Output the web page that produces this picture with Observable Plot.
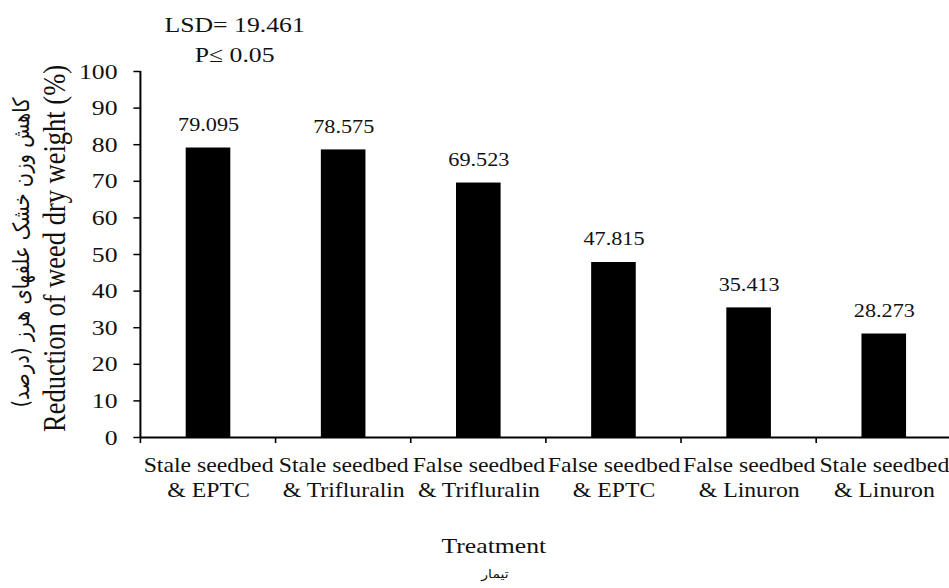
<!DOCTYPE html>
<html>
<head>
<meta charset="utf-8">
<script src="https://cdn.jsdelivr.net/npm/d3@7"></script>
<script src="https://cdn.jsdelivr.net/npm/@observablehq/plot@0.6"></script>
<style>
html, body { margin: 0; padding: 0; background: #fff; overflow: hidden; }
</style>
</head>
<body>
<div id="chart"></div>
<script>
// ---- data ----
const categories = [
  "Stale seedbed\n& EPTC",
  "Stale seedbed\n& Trifluralin",
  "False seedbed\n& Trifluralin",
  "False seedbed\n& EPTC",
  "False seedbed\n& Linuron",
  "Stale seedbed\n& Linuron"
];
const values = [79.095, 78.575, 69.523, 47.815, 35.413, 28.273];
const valueLabels = ["79.095", "78.575", "69.523", "47.815", "35.413", "28.273"];
const yTicks = [0, 10, 20, 30, 40, 50, 60, 70, 80, 90, 100];
const yTitle = "Reduction of weed dry weight (%)";
const yTitleFa = "کاهش وزن خشک علفهای هرز (درصد)";
const xTitle = "Treatment";
const xTitleFa = "تیمار";
const note = "LSD= 19.461\nP≤ 0.05";

const data = categories.map((c, i) => ({treatment: c, value: values[i], label: valueLabels[i]}));

// ---- layout ----
const STRETCH = 1.17;           // reference is horizontally stretched
const W = 811, H = 588;
const serif = "Liberation Serif, Times New Roman, serif";
const faFont = "DejaVu Sans, sans-serif";
const ink = "#111";

// y axis line + band-boundary ticks, placed from Plot's own scales
const axisLines = (index, scales, vals, dims) => {
  const {x, y} = scales;
  const g = d3.create("svg:g").attr("stroke", "#000").attr("fill", "none");
  g.append("line")
    .attr("x1", dims.marginLeft).attr("x2", dims.marginLeft)
    .attr("y1", y(0) + 1).attr("y2", y(100))
    .attr("stroke-width", 2 / STRETCH);
  const gap = (x.step() - x.bandwidth()) / 2;
  categories.forEach(c => {
    const bx = x(c) - gap;
    g.append("line")
      .attr("x1", bx).attr("x2", bx)
      .attr("y1", y(0)).attr("y2", y(0) + 6)
      .attr("stroke-width", 1.6 / STRETCH);
  });
  return g.node();
};

const chart = Plot.plot({
  width: W,
  height: H,
  marginLeft: 120,
  marginRight: -2,
  marginTop: 71,
  marginBottom: 151,
  style: {fontFamily: serif, color: "#000", background: "#fff"},
  x: {domain: categories, paddingInner: 0.67, paddingOuter: 0.335, round: false, label: null},
  y: {domain: [0, 100], label: null},
  marks: [
    Plot.barY(data, {x: "treatment", y: "value", fill: "#000"}),
    Plot.ruleY([0], {stroke: "#000", strokeWidth: 2}),
    axisLines,
    Plot.axisY({ticks: yTicks, tickSize: 6, tickPadding: 14, fontSize: 22, fontFamily: serif, fill: ink, strokeWidth: 1.5, label: null, tickFormat: d => String(d)}),
    Plot.axisX({tickSize: 0, tickPadding: 17, fontSize: 20.3, fontFamily: serif, fill: ink, lineHeight: 1.22, label: null}),
    Plot.text(data, {x: "treatment", y: "value", text: "label", lineAnchor: "bottom", dy: -17, fontSize: 19, fontFamily: serif, fill: ink}),
    Plot.text([yTitle], {text: d => d, frameAnchor: "left", textAnchor: "middle", rotate: -90, lineAnchor: "middle", dx: -73.5, dy: -6, fontSize: 26.5, fontFamily: serif, fill: ink}),
    Plot.text([yTitleFa], {text: d => d, frameAnchor: "left", textAnchor: "middle", rotate: -90, lineAnchor: "middle", dx: -102, dy: -2, fontSize: 19.5, fontFamily: faFont, fill: ink}),
    Plot.text([xTitle], {text: d => d, frameAnchor: "bottom", textAnchor: "middle", lineAnchor: "bottom", dx: -45, dy: 115, fontSize: 22, fontFamily: serif, fill: ink}),
    Plot.text([xTitleFa], {text: d => d, frameAnchor: "bottom", textAnchor: "middle", lineAnchor: "bottom", dx: -44, dy: 140, fontSize: 12, fontFamily: faFont, fill: ink}),
    Plot.text([note], {text: d => d, frameAnchor: "top-left", textAnchor: "middle", lineAnchor: "bottom", lineHeight: 1.36, dx: 80, dy: -10, fontSize: 22, fontFamily: serif, fill: ink})
  ]
});

chart.setAttribute("preserveAspectRatio", "none");
chart.setAttribute("width", 949);
chart.setAttribute("height", 588);
chart.style.width = "949px";
chart.style.height = "588px";
chart.style.maxWidth = "none";
document.getElementById("chart").appendChild(chart);
</script>
</body>
</html>
